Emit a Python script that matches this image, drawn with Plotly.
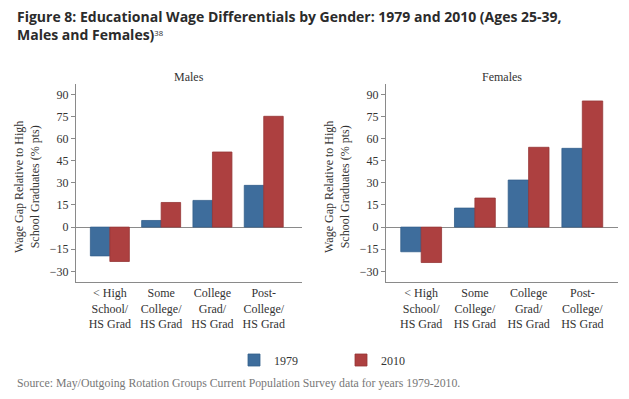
import plotly.graph_objects as go

categories = ["&lt; High<br>School/<br>HS Grad", "Some<br>College/<br>HS Grad",
              "College<br>Grad/<br>HS Grad", "Post-<br>College/<br>HS Grad"]
males_1979 = [-19.5, 4.5, 18.1, 28.3]
males_2010 = [-23.3, 16.7, 50.9, 75.1]
females_1979 = [-16.7, 12.9, 31.9, 53.4]
females_2010 = [-24.0, 19.7, 54.1, 85.5]
y_ticks = [-30, -15, 0, 15, 30, 45, 60, 75, 90]

BLUE, BLUE_EDGE = "#3e6d9c", "#33608c"
RED, RED_EDGE = "#ad4040", "#963636"
GRAY = "#8a8a8a"
SERIF = "Liberation Serif"
W, H = 629, 399

fig = go.Figure()
def bar(y, name, color, edge, xa, ya, show):
    return go.Bar(x=categories, y=y, name=name, marker=dict(color=color, line=dict(color=edge, width=0.8)),
                  xaxis=xa, yaxis=ya, legendgroup=name, showlegend=show)

fig.add_trace(bar(males_1979, "1979", BLUE, BLUE_EDGE, "x", "y", True))
fig.add_trace(bar(males_2010, "2010", RED, RED_EDGE, "x", "y", True))
fig.add_trace(bar(females_1979, "1979", BLUE, BLUE_EDGE, "x2", "y2", False))
fig.add_trace(bar(females_2010, "2010", RED, RED_EDGE, "x2", "y2", False))

ydom = [1 - 281.7 / H, 1 - 84 / H]
common_y = dict(range=[-37, 97], tickvals=y_ticks, showgrid=False, showline=True,
                linecolor=GRAY, linewidth=1, ticks="outside", ticklen=4, tickcolor=GRAY,
                zeroline=True, zerolinecolor=GRAY, zerolinewidth=1,
                tickfont=dict(family=SERIF, size=12, color="#333"), domain=ydom,
                automargin=False, fixedrange=True)
common_x = dict(showgrid=False, showline=True, linecolor=GRAY, linewidth=1, ticks="",
                tickfont=dict(family=SERIF, size=12, color="#333"), automargin=False,
                fixedrange=True)

fig.update_layout(
    width=W, height=H, margin=dict(l=0, r=0, t=0, b=0),
    paper_bgcolor="white", plot_bgcolor="white",
    barmode="group", bargap=0.24, bargroupgap=0,
    xaxis=dict(common_x, domain=[76 / W, 301.7 / W], range=[-0.66, 3.74], anchor="y"),
    yaxis=dict(common_y, anchor="x"),
    xaxis2=dict(common_x, domain=[386 / W, 618.3 / W], range=[-0.655, 3.67], anchor="y2"),
    yaxis2=dict(common_y, anchor="x2"),
    showlegend=True,
    legend=dict(orientation="h", x=234 / W, xanchor="left", y=1 - 360 / H, yanchor="middle",
                entrywidth=62, entrywidthmode="pixels",
                font=dict(family=SERIF, size=12, color="#333"), bgcolor="rgba(0,0,0,0)"),
    font=dict(family=SERIF, color="#333"),
)

ann = [
    dict(text="<b>Figure 8: Educational Wage Differentials by Gender: 1979 and 2010 (Ages 25-39,<br>Males and Females)</b><span style='font-size:11px'><sup>38</sup></span>",
         x=15 / W, y=1 - 5 / H, xanchor="left", yanchor="top", align="left",
         font=dict(family="Open Sans", size=14, color="#2b2b2b")),
    dict(text="Males", x=188.8 / W, y=1 - 76.7 / H, yanchor="middle", xanchor="center",
         font=dict(family=SERIF, size=12, color="#333")),
    dict(text="Females", x=502 / W, y=1 - 76.7 / H, yanchor="middle", xanchor="center",
         font=dict(family=SERIF, size=12, color="#333")),
    dict(text="Wage Gap Relative to High<br>School Graduates (% pts)", textangle=-90,
         x=27 / W, y=1 - 187 / H, xanchor="center", yanchor="middle",
         font=dict(family=SERIF, size=12, color="#333")),
    dict(text="Wage Gap Relative to High<br>School Graduates (% pts)", textangle=-90,
         x=337 / W, y=1 - 187 / H, xanchor="center", yanchor="middle",
         font=dict(family=SERIF, size=12, color="#333")),
    dict(text="Source: May/Outgoing Rotation Groups Current Population Survey data for years 1979-2010.",
         x=15 / W, y=1 - 383 / H, xanchor="left", yanchor="middle",
         font=dict(family=SERIF, size=11.8, color="#777")),
]
for a in ann:
    a.update(xref="paper", yref="paper", showarrow=False)
fig.update_layout(annotations=ann)

fig.write_html("out.html", config={"displayModeBar": False, "staticPlot": True},
               post_script="document.body.style.margin='0';document.body.style.padding='0';")
